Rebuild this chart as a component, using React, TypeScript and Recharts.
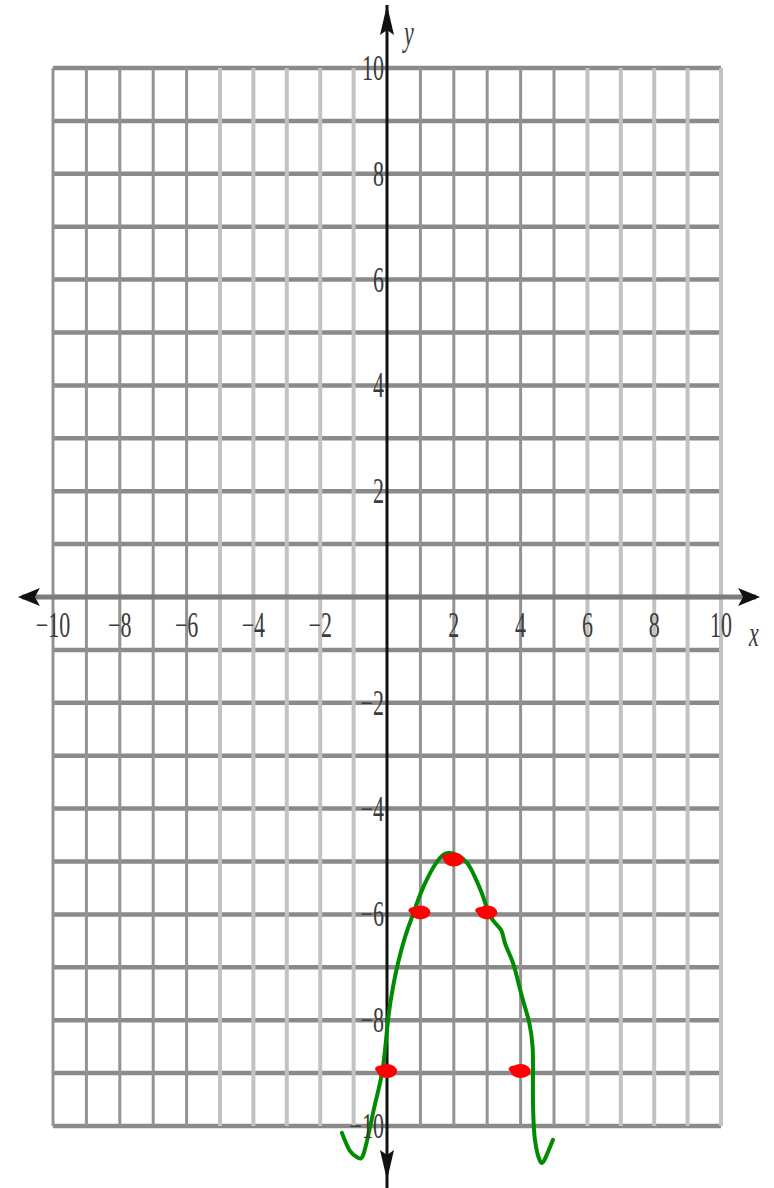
import React from "react";
import {
  ComposedChart,
  XAxis,
  YAxis,
  Line,
  Scatter,
  ReferenceLine,
} from "recharts";

// Graph paper: one line per unit from -10 to 10
const gridValues = [-10, -9, -8, -7, -6, -5, -4, -3, -2, -1, 0, 1, 2, 3, 4, 5, 6, 7, 8, 9, 10];
// Vertical rules that print heavier / lighter on this sheet
const heavyColumns = [-10, -9, -8, -7, -6, 1, 2, 3, 4, 5];
const lightColumns = [-5, -4, -3, -2, -1, 6, 7, 8, 9, 10];

// Tick labels
const xTickValues = [-10, -8, -6, -4, -2, 2, 4, 6, 8, 10];
const yTickValues = [10, 8, 6, 4, 2, -2, -4, -6, -8, -10];

// Plotted points of y = -(x - 2)^2 - 5
const pointX = [0, 1, 2, 3, 4];
const pointY = [-9, -6, -5, -6, -9];

// Hand-drawn parabola through the points (x, y)
const sketchCurve: [number, number][] = [
  [-1.35, -10.13],
  [-1.11, -10.47],
  [-0.87, -10.6],
  [-0.72, -10.56],
  [-0.57, -10.2],
  [-0.45, -9.85],
  [-0.33, -9.51],
  [-0.12, -8.88],
  [0.03, -8.0],
  [0.18, -7.37],
  [0.33, -6.92],
  [0.54, -6.43],
  [0.75, -6.05],
  [0.99, -5.63],
  [1.29, -5.22],
  [1.59, -4.93],
  [1.83, -4.84],
  [2.1, -4.88],
  [2.4, -5.03],
  [2.63, -5.29],
  [2.84, -5.6],
  [2.99, -5.88],
  [3.17, -6.11],
  [3.42, -6.3],
  [3.53, -6.54],
  [3.74, -6.86],
  [3.89, -7.18],
  [4.07, -7.62],
  [4.26, -8.05],
  [4.36, -8.51],
  [4.37, -9.0],
  [4.37, -9.51],
  [4.38, -9.78],
  [4.43, -10.26],
  [4.58, -10.66],
  [4.73, -10.62],
  [4.97, -10.26],
];

// Axis extents (the arrows reach past the paper)
const xAxisEnds = [-11.05, 11.17];
const yAxisEnds = [11.19, -11.17];

const X_DOMAIN: [number, number] = [-11.587, 11.587];
const Y_DOMAIN: [number, number] = [-11.172, 11.285];

const curveData = sketchCurve.map(([x, y]) => ({ x, y }));
const pointData = pointX.map((x, i) => ({ x, y: pointY[i] }));
const xTickData = xTickValues.map((v) => ({ x: v, y: 0, label: v < 0 ? `\u2212${-v}` : String(v) }));
const yTickData = yTickValues.map((v) => ({ x: 0, y: v, label: v < 0 ? `\u2212${-v}` : String(v) }));

const FONT = "'Liberation Serif', 'DejaVu Serif', serif";
const STRETCH = 1.58;
const LABEL_FILL = "#3a3a3a";

const XTickLabel = (props: any) => {
  const { cx, cy, payload } = props;
  return (
    <text
      transform={`translate(${cx},${cy + 28}) scale(1,${STRETCH})`}
      textAnchor="middle"
      dominantBaseline="central"
      fontFamily={FONT}
      fontSize={22}
      fill={LABEL_FILL}
    >
      {payload.label}
    </text>
  );
};

const YTickLabel = (props: any) => {
  const { cx, cy, payload } = props;
  return (
    <text
      transform={`translate(${cx - 3},${cy}) scale(1,${STRETCH})`}
      textAnchor="end"
      dominantBaseline="central"
      fontFamily={FONT}
      fontSize={22}
      fill={LABEL_FILL}
    >
      {payload.label}
    </text>
  );
};

const RedMark = (props: any) => {
  const { cx, cy } = props;
  return (
    <g>
      <ellipse cx={cx} cy={cy - 2} rx={10} ry={7} fill="#ff0000" />
      <ellipse cx={cx - 6} cy={cy - 4} rx={6} ry={3.5} fill="#ff0000" />
    </g>
  );
};

// Horizontal axis: grey rule with black arrowheads at both ends
const XAxisShape = (props: any) => {
  const { x1, y1, x2 } = props;
  const left = Math.min(x1, x2);
  const right = Math.max(x1, x2);
  return (
    <g>
      <line x1={left + 4} y1={y1} x2={right - 4} y2={y1} stroke="#7c7c7c" strokeWidth={5} />
      <path d={`M${left},${y1} L${left + 22},${y1 - 9} L${left + 17},${y1} L${left + 22},${y1 + 9} Z`} fill="#111" />
      <path d={`M${right},${y1} L${right - 22},${y1 - 9} L${right - 17},${y1} L${right - 22},${y1 + 9} Z`} fill="#111" />
    </g>
  );
};

// Vertical axis: black rule with arrowheads at both ends
const YAxisShape = (props: any) => {
  const { x1, y1, y2 } = props;
  const top = Math.min(y1, y2);
  const bottom = Math.max(y1, y2);
  const tipB = bottom - 8;
  return (
    <g>
      <line x1={x1} y1={top} x2={x1} y2={bottom} stroke="#111" strokeWidth={3} />
      <path d={`M${x1},${top} L${x1 - 7},${top + 30} L${x1},${top + 25} L${x1 + 7},${top + 30} Z`} fill="#111" />
      <path d={`M${x1},${tipB} L${x1 - 7},${tipB - 30} L${x1},${tipB - 25} L${x1 + 7},${tipB - 30} Z`} fill="#111" />
    </g>
  );
};

export default function App() {
  return (
    <div style={{ position: "absolute", left: 0, top: 0, width: 774, height: 1188, background: "#fff" }}>
      <ComposedChart width={774} height={1188} margin={{ top: 0, right: 0, bottom: 0, left: 0 }}>
        <XAxis type="number" dataKey="x" domain={X_DOMAIN} allowDataOverflow hide />
        <YAxis type="number" dataKey="y" domain={Y_DOMAIN} allowDataOverflow hide />

        {gridValues.map((v) => (
          <ReferenceLine
            key={`h${v}`}
            segment={[{ x: -10, y: v }, { x: 10, y: v }]}
            stroke="#8a8a8a"
            strokeWidth={4.5}
          />
        ))}
        {heavyColumns.map((v) => (
          <ReferenceLine
            key={`vh${v}`}
            segment={[{ x: v, y: -10 }, { x: v, y: 10 }]}
            stroke="#939393"
            strokeWidth={3}
          />
        ))}
        {lightColumns.map((v) => (
          <ReferenceLine
            key={`vl${v}`}
            segment={[{ x: v, y: -10 }, { x: v, y: 10 }]}
            stroke="#c2c2c2"
            strokeWidth={4}
          />
        ))}

        <ReferenceLine
          segment={[{ x: xAxisEnds[0], y: 0 }, { x: xAxisEnds[1], y: 0 }]}
          shape={XAxisShape}
        />
        <ReferenceLine
          segment={[{ x: 0, y: yAxisEnds[0] }, { x: 0, y: yAxisEnds[1] }]}
          shape={YAxisShape}
        />

        <Scatter data={xTickData} dataKey="y" shape={XTickLabel} isAnimationActive={false} />
        <Scatter data={yTickData} dataKey="y" shape={YTickLabel} isAnimationActive={false} />

        <Scatter data={pointData} dataKey="y" shape={RedMark} isAnimationActive={false} />

        <Line
          data={curveData}
          dataKey="y"
          type="natural"
          stroke="#008c00"
          strokeWidth={4}
          dot={false}
          activeDot={false}
          isAnimationActive={false}
          strokeLinecap="round"
          strokeLinejoin="round"
        />
      </ComposedChart>
      <svg width={774} height={1188} style={{ position: "absolute", left: 0, top: 0, pointerEvents: "none" }}>
        <text x={409} y={33} transform={`translate(0,${33 - 33 * STRETCH}) scale(1,${STRETCH})`} textAnchor="middle" dominantBaseline="central" fontFamily={FONT} fontStyle="italic" fontSize={22} fill={LABEL_FILL}>
          y
        </text>
        <text x={754} y={634} transform={`translate(0,${634 - 634 * STRETCH}) scale(1,${STRETCH})`} textAnchor="middle" dominantBaseline="central" fontFamily={FONT} fontStyle="italic" fontSize={22} fill={LABEL_FILL}>
          x
        </text>
      </svg>
    </div>
  );
}
